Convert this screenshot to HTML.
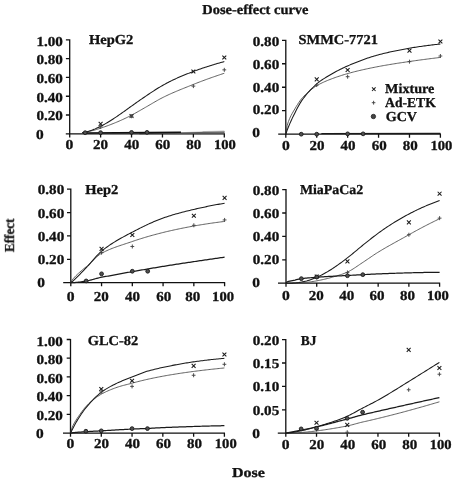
<!DOCTYPE html>
<html><head><meta charset="utf-8"><title>Dose-effect curve</title>
<style>html,body{margin:0;padding:0;background:#fff}svg{display:block}</style></head>
<body>
<svg width="455" height="482" viewBox="0 0 455 482">
<rect width="455" height="482" fill="#fff"/>
<g font-family="'Liberation Serif', serif" font-weight="bold" font-size="13.7" fill="#111" stroke="#111" stroke-width="0.3" opacity="0.999" text-rendering="geometricPrecision">
<text x="202.3" y="14.1" textLength="106.2" lengthAdjust="spacingAndGlyphs">Dose-effect curve</text>
<text x="232.0" y="476.7" textLength="33.0" lengthAdjust="spacingAndGlyphs">Dose</text>
<text transform="translate(13.9,252.3) rotate(-90)" x="0.2" y="0" textLength="33.5" lengthAdjust="spacingAndGlyphs">Effect</text>
<path d="M69.70 39.30 V133.80 M65.80 133.80 H224.90 M65.90 115.02 H69.70 M65.90 96.24 H69.70 M65.90 77.46 H69.70 M65.90 58.68 H69.70 M65.90 39.90 H69.70 M69.70 133.80 V137.40 M100.62 133.80 V137.40 M131.54 133.80 V137.40 M162.46 133.80 V137.40 M193.38 133.80 V137.40 M224.30 133.80 V137.40" stroke="#111" stroke-width="1.3" fill="none"/>
<text x="36.0" y="138.6" textLength="7.7" lengthAdjust="spacingAndGlyphs">0</text>
<text x="36.5" y="120.1" textLength="26.4" lengthAdjust="spacingAndGlyphs">0.20</text>
<text x="36.5" y="101.5" textLength="26.4" lengthAdjust="spacingAndGlyphs">0.40</text>
<text x="36.5" y="83.0" textLength="26.4" lengthAdjust="spacingAndGlyphs">0.60</text>
<text x="36.5" y="64.4" textLength="26.4" lengthAdjust="spacingAndGlyphs">0.80</text>
<text x="36.5" y="45.9" textLength="26.4" lengthAdjust="spacingAndGlyphs">1.00</text>
<text x="65.6" y="148.9" textLength="7.8" lengthAdjust="spacingAndGlyphs">0</text>
<text x="93.1" y="148.9" textLength="15.0" lengthAdjust="spacingAndGlyphs">20</text>
<text x="124.2" y="148.9" textLength="15.0" lengthAdjust="spacingAndGlyphs">40</text>
<text x="155.2" y="148.9" textLength="15.0" lengthAdjust="spacingAndGlyphs">60</text>
<text x="186.3" y="148.9" textLength="15.0" lengthAdjust="spacingAndGlyphs">80</text>
<text x="214.0" y="148.9" textLength="21.9" lengthAdjust="spacingAndGlyphs">100</text>
<path d="M82.07 132.71 L83.26 132.53 L84.46 132.33 L85.65 132.12 L86.85 131.89 L88.04 131.64 L89.24 131.38 L90.43 131.11 L91.63 130.82 L92.83 130.52 L94.02 130.20 L95.22 129.87 L96.41 129.52 L97.61 129.16 L98.80 128.78 L100.00 128.39 L101.19 127.99 L102.39 127.58 L103.58 127.16 L104.78 126.74 L105.97 126.31 L107.17 125.88 L108.36 125.44 L109.56 124.99 L110.75 124.53 L111.95 124.07 L113.14 123.60 L114.34 123.12 L115.53 122.63 L116.73 122.13 L117.92 121.63 L119.12 121.11 L120.32 120.59 L121.51 120.05 L122.71 119.51 L123.90 118.96 L125.10 118.39 L126.29 117.82 L127.49 117.24 L128.68 116.64 L129.88 116.03 L131.07 115.42 L132.27 114.79 L133.46 114.14 L134.66 113.49 L135.85 112.83 L137.05 112.16 L138.24 111.48 L139.44 110.80 L140.63 110.12 L141.83 109.43 L143.02 108.74 L144.22 108.05 L145.42 107.36 L146.61 106.68 L147.81 106.00 L149.00 105.30 L150.20 104.61 L151.39 103.91 L152.59 103.21 L153.78 102.51 L154.98 101.81 L156.17 101.13 L157.37 100.45 L158.56 99.78 L159.76 99.12 L160.95 98.48 L162.15 97.86 L163.34 97.25 L164.54 96.66 L165.73 96.08 L166.93 95.51 L168.12 94.95 L169.32 94.40 L170.51 93.85 L171.71 93.32 L172.91 92.79 L174.10 92.27 L175.30 91.76 L176.49 91.25 L177.69 90.75 L178.88 90.25 L180.08 89.76 L181.27 89.28 L182.47 88.79 L183.66 88.31 L184.86 87.83 L186.05 87.35 L187.25 86.88 L188.44 86.40 L189.64 85.92 L190.83 85.45 L192.03 84.97 L193.22 84.49 L194.42 84.01 L195.61 83.53 L196.81 83.06 L198.01 82.59 L199.20 82.13 L200.40 81.68 L201.59 81.22 L202.79 80.77 L203.98 80.33 L205.18 79.89 L206.37 79.45 L207.57 79.01 L208.76 78.58 L209.96 78.16 L211.15 77.73 L212.35 77.31 L213.54 76.90 L214.74 76.48 L215.93 76.07 L217.13 75.66 L218.32 75.25 L219.52 74.85 L220.71 74.45 L221.91 74.05 L223.10 73.65 L224.30 73.25" stroke="#444" stroke-width="0.85" fill="none" stroke-linejoin="round"/>
<path d="M139.27 133.80 L224.30 131.36 L224.30 133.80 Z" fill="#6e6e6e"/>
<path d="M83.61 132.95 L181.01 132.30" stroke="#111" stroke-width="1.4" fill="none"/>
<path d="M202.66 131.55 L224.30 131.17" stroke="#aaa" stroke-width="0.9" fill="none"/>
<path d="M82.07 132.85 L83.26 132.62 L84.46 132.36 L85.65 132.08 L86.85 131.77 L88.04 131.43 L89.24 131.07 L90.43 130.68 L91.63 130.27 L92.83 129.83 L94.02 129.36 L95.22 128.87 L96.41 128.35 L97.61 127.81 L98.80 127.25 L100.00 126.66 L101.19 126.06 L102.39 125.43 L103.58 124.78 L104.78 124.11 L105.97 123.42 L107.17 122.72 L108.36 122.00 L109.56 121.26 L110.75 120.51 L111.95 119.75 L113.14 118.97 L114.34 118.18 L115.53 117.38 L116.73 116.57 L117.92 115.75 L119.12 114.93 L120.32 114.09 L121.51 113.25 L122.71 112.41 L123.90 111.56 L125.10 110.71 L126.29 109.85 L127.49 109.00 L128.68 108.14 L129.88 107.28 L131.07 106.42 L132.27 105.57 L133.46 104.71 L134.66 103.86 L135.85 103.01 L137.05 102.17 L138.24 101.32 L139.44 100.49 L140.63 99.65 L141.83 98.83 L143.02 98.00 L144.22 97.19 L145.42 96.37 L146.61 95.57 L147.81 94.77 L149.00 93.97 L150.20 93.18 L151.39 92.39 L152.59 91.60 L153.78 90.83 L154.98 90.06 L156.17 89.30 L157.37 88.55 L158.56 87.81 L159.76 87.09 L160.95 86.38 L162.15 85.69 L163.34 85.01 L164.54 84.34 L165.73 83.69 L166.93 83.06 L168.12 82.43 L169.32 81.82 L170.51 81.22 L171.71 80.63 L172.91 80.05 L174.10 79.49 L175.30 78.93 L176.49 78.39 L177.69 77.85 L178.88 77.32 L180.08 76.81 L181.27 76.30 L182.47 75.79 L183.66 75.30 L184.86 74.81 L186.05 74.32 L187.25 73.85 L188.44 73.38 L189.64 72.91 L190.83 72.44 L192.03 71.99 L193.22 71.53 L194.42 71.08 L195.61 70.63 L196.81 70.19 L198.01 69.76 L199.20 69.34 L200.40 68.92 L201.59 68.50 L202.79 68.09 L203.98 67.69 L205.18 67.30 L206.37 66.91 L207.57 66.52 L208.76 66.14 L209.96 65.77 L211.15 65.40 L212.35 65.03 L213.54 64.67 L214.74 64.31 L215.93 63.96 L217.13 63.61 L218.32 63.27 L219.52 62.93 L220.71 62.59 L221.91 62.26 L223.10 61.93 L224.30 61.61" stroke="#1a1a1a" stroke-width="1.05" fill="none" stroke-linejoin="round"/>
<path d="M98.67 121.90 L102.57 125.80 M98.67 125.80 L102.57 121.90" stroke="#1a1a1a" stroke-width="1.05" fill="none"/>
<path d="M129.59 114.10 L133.49 118.00 M129.59 118.00 L133.49 114.10" stroke="#1a1a1a" stroke-width="1.05" fill="none"/>
<path d="M191.43 69.59 L195.33 73.49 M191.43 73.49 L195.33 69.59" stroke="#1a1a1a" stroke-width="1.05" fill="none"/>
<path d="M222.35 55.51 L226.25 59.41 M222.35 59.41 L226.25 55.51" stroke="#1a1a1a" stroke-width="1.05" fill="none"/>
<path d="M98.72 126.85 H102.52 M100.62 124.85 V128.85" stroke="#444" stroke-width="0.95" fill="none"/>
<path d="M129.64 116.24 H133.44 M131.54 114.24 V118.24" stroke="#444" stroke-width="0.95" fill="none"/>
<path d="M191.48 86.10 H195.28 M193.38 84.10 V88.10" stroke="#444" stroke-width="0.95" fill="none"/>
<path d="M222.40 69.85 H226.20 M224.30 67.85 V71.85" stroke="#444" stroke-width="0.95" fill="none"/>
<circle cx="85.16" cy="132.67" r="1.90" fill="#505050" stroke="#1a1a1a" stroke-width="0.9"/>
<circle cx="100.62" cy="132.67" r="1.90" fill="#505050" stroke="#1a1a1a" stroke-width="0.9"/>
<circle cx="131.54" cy="132.39" r="1.90" fill="#505050" stroke="#1a1a1a" stroke-width="0.9"/>
<circle cx="147.00" cy="132.39" r="1.90" fill="#505050" stroke="#1a1a1a" stroke-width="0.9"/>
<path d="M285.80 39.70 V134.20 M278.20 134.20 H441.00 M282.00 110.72 H285.80 M282.00 87.25 H285.80 M282.00 63.77 H285.80 M282.00 40.30 H285.80 M285.80 134.20 V137.80 M316.72 134.20 V137.80 M347.64 134.20 V137.80 M378.56 134.20 V137.80 M409.48 134.20 V137.80 M440.40 134.20 V137.80" stroke="#111" stroke-width="1.3" fill="none"/>
<text x="252.3" y="137.3" textLength="7.7" lengthAdjust="spacingAndGlyphs">0</text>
<text x="252.8" y="114.4" textLength="26.4" lengthAdjust="spacingAndGlyphs">0.20</text>
<text x="252.8" y="91.5" textLength="26.4" lengthAdjust="spacingAndGlyphs">0.40</text>
<text x="252.8" y="68.6" textLength="26.4" lengthAdjust="spacingAndGlyphs">0.60</text>
<text x="252.8" y="45.7" textLength="26.4" lengthAdjust="spacingAndGlyphs">0.80</text>
<text x="281.9" y="149.6" textLength="7.8" lengthAdjust="spacingAndGlyphs">0</text>
<text x="309.4" y="149.6" textLength="15.0" lengthAdjust="spacingAndGlyphs">20</text>
<text x="340.5" y="149.6" textLength="15.0" lengthAdjust="spacingAndGlyphs">40</text>
<text x="371.7" y="149.6" textLength="15.0" lengthAdjust="spacingAndGlyphs">60</text>
<text x="402.8" y="149.6" textLength="15.0" lengthAdjust="spacingAndGlyphs">80</text>
<text x="430.4" y="149.6" textLength="21.9" lengthAdjust="spacingAndGlyphs">100</text>
<path d="M285.82 133.69 L287.11 125.71 L288.41 121.57 L289.71 118.37 L291.01 115.64 L292.31 113.22 L293.61 110.98 L294.91 108.80 L296.21 106.62 L297.51 104.49 L298.81 102.47 L300.10 100.61 L301.40 98.97 L302.70 97.49 L304.00 96.09 L305.30 94.77 L306.60 93.51 L307.90 92.31 L309.20 91.18 L310.50 90.10 L311.80 89.08 L313.10 88.12 L314.39 87.22 L315.69 86.36 L316.99 85.57 L318.29 84.82 L319.59 84.11 L320.89 83.44 L322.19 82.81 L323.49 82.20 L324.79 81.62 L326.09 81.06 L327.38 80.53 L328.68 80.00 L329.98 79.49 L331.28 78.99 L332.58 78.50 L333.88 78.02 L335.18 77.55 L336.48 77.09 L337.78 76.65 L339.08 76.22 L340.37 75.80 L341.67 75.38 L342.97 74.98 L344.27 74.58 L345.57 74.20 L346.87 73.82 L348.17 73.45 L349.47 73.08 L350.77 72.73 L352.07 72.38 L353.37 72.04 L354.66 71.70 L355.96 71.37 L357.26 71.05 L358.56 70.74 L359.86 70.43 L361.16 70.13 L362.46 69.83 L363.76 69.54 L365.06 69.25 L366.36 68.97 L367.65 68.69 L368.95 68.41 L370.25 68.14 L371.55 67.88 L372.85 67.61 L374.15 67.36 L375.45 67.10 L376.75 66.85 L378.05 66.60 L379.35 66.36 L380.64 66.11 L381.94 65.88 L383.24 65.64 L384.54 65.41 L385.84 65.19 L387.14 64.97 L388.44 64.75 L389.74 64.53 L391.04 64.32 L392.34 64.11 L393.63 63.90 L394.93 63.69 L396.23 63.49 L397.53 63.28 L398.83 63.08 L400.13 62.89 L401.43 62.69 L402.73 62.49 L404.03 62.30 L405.33 62.11 L406.63 61.91 L407.92 61.72 L409.22 61.53 L410.52 61.34 L411.82 61.15 L413.12 60.97 L414.42 60.79 L415.72 60.60 L417.02 60.42 L418.32 60.25 L419.62 60.07 L420.91 59.90 L422.21 59.72 L423.51 59.55 L424.81 59.38 L426.11 59.21 L427.41 59.04 L428.71 58.88 L430.01 58.71 L431.31 58.55 L432.61 58.38 L433.90 58.22 L435.20 58.06 L436.50 57.90 L437.80 57.73 L439.10 57.57 L440.40 57.41" stroke="#444" stroke-width="0.85" fill="none" stroke-linejoin="round"/>
<path d="M321.36 133.50 L440.40 133.30" stroke="#1a1a1a" stroke-width="1.2" fill="none"/>
<path d="M285.82 134.14 L287.11 130.31 L288.41 126.96 L289.71 123.84 L291.01 120.92 L292.31 118.15 L293.61 115.53 L294.91 112.94 L296.21 110.34 L297.51 107.80 L298.81 105.38 L300.10 103.14 L301.40 101.14 L302.70 99.31 L304.00 97.56 L305.30 95.89 L306.60 94.29 L307.90 92.76 L309.20 91.30 L310.50 89.89 L311.80 88.55 L313.10 87.25 L314.39 86.01 L315.69 84.81 L316.99 83.66 L318.29 82.58 L319.59 81.57 L320.89 80.63 L322.19 79.74 L323.49 78.90 L324.79 78.09 L326.09 77.31 L327.38 76.55 L328.68 75.80 L329.98 75.06 L331.28 74.30 L332.58 73.54 L333.88 72.78 L335.18 72.04 L336.48 71.33 L337.78 70.63 L339.08 69.96 L340.37 69.30 L341.67 68.66 L342.97 68.03 L344.27 67.42 L345.57 66.82 L346.87 66.24 L348.17 65.67 L349.47 65.11 L350.77 64.56 L352.07 64.01 L353.37 63.47 L354.66 62.94 L355.96 62.42 L357.26 61.90 L358.56 61.40 L359.86 60.90 L361.16 60.41 L362.46 59.93 L363.76 59.45 L365.06 58.99 L366.36 58.53 L367.65 58.09 L368.95 57.66 L370.25 57.23 L371.55 56.82 L372.85 56.42 L374.15 56.03 L375.45 55.65 L376.75 55.28 L378.05 54.93 L379.35 54.59 L380.64 54.26 L381.94 53.93 L383.24 53.61 L384.54 53.29 L385.84 52.98 L387.14 52.68 L388.44 52.38 L389.74 52.08 L391.04 51.80 L392.34 51.51 L393.63 51.24 L394.93 50.96 L396.23 50.69 L397.53 50.43 L398.83 50.17 L400.13 49.92 L401.43 49.67 L402.73 49.42 L404.03 49.18 L405.33 48.94 L406.63 48.71 L407.92 48.48 L409.22 48.25 L410.52 48.03 L411.82 47.81 L413.12 47.59 L414.42 47.39 L415.72 47.18 L417.02 46.98 L418.32 46.79 L419.62 46.59 L420.91 46.41 L422.21 46.22 L423.51 46.04 L424.81 45.87 L426.11 45.69 L427.41 45.52 L428.71 45.36 L430.01 45.19 L431.31 45.03 L432.61 44.88 L433.90 44.72 L435.20 44.57 L436.50 44.42 L437.80 44.28 L439.10 44.13 L440.40 43.99" stroke="#1a1a1a" stroke-width="1.05" fill="none" stroke-linejoin="round"/>
<path d="M314.77 77.44 L318.67 81.34 M314.77 81.34 L318.67 77.44" stroke="#1a1a1a" stroke-width="1.05" fill="none"/>
<path d="M345.69 68.05 L349.59 71.95 M345.69 71.95 L349.59 68.05" stroke="#1a1a1a" stroke-width="1.05" fill="none"/>
<path d="M407.53 48.68 L411.43 52.58 M407.53 52.58 L411.43 48.68" stroke="#1a1a1a" stroke-width="1.05" fill="none"/>
<path d="M438.45 39.52 L442.35 43.42 M438.45 43.42 L442.35 39.52" stroke="#1a1a1a" stroke-width="1.05" fill="none"/>
<path d="M314.82 85.02 H318.62 M316.72 83.02 V87.02" stroke="#444" stroke-width="0.95" fill="none"/>
<path d="M345.74 76.69 H349.54 M347.64 74.69 V78.69" stroke="#444" stroke-width="0.95" fill="none"/>
<path d="M407.58 61.66 H411.38 M409.48 59.66 V63.66" stroke="#444" stroke-width="0.95" fill="none"/>
<path d="M438.50 56.03 H442.30 M440.40 54.03 V58.03" stroke="#444" stroke-width="0.95" fill="none"/>
<circle cx="301.26" cy="134.20" r="1.90" fill="#505050" stroke="#1a1a1a" stroke-width="0.9"/>
<circle cx="316.72" cy="134.20" r="1.90" fill="#505050" stroke="#1a1a1a" stroke-width="0.9"/>
<circle cx="347.64" cy="133.85" r="1.90" fill="#505050" stroke="#1a1a1a" stroke-width="0.9"/>
<circle cx="363.10" cy="133.85" r="1.90" fill="#505050" stroke="#1a1a1a" stroke-width="0.9"/>
<path d="M70.80 188.60 V282.70 M63.20 282.70 H225.20 M67.00 259.32 H70.80 M67.00 235.95 H70.80 M67.00 212.57 H70.80 M67.00 189.20 H70.80 M70.80 282.70 V286.30 M101.56 282.70 V286.30 M132.32 282.70 V286.30 M163.08 282.70 V286.30 M193.84 282.70 V286.30 M224.60 282.70 V286.30" stroke="#111" stroke-width="1.3" fill="none"/>
<text x="37.3" y="287.3" textLength="7.7" lengthAdjust="spacingAndGlyphs">0</text>
<text x="37.8" y="264.1" textLength="26.4" lengthAdjust="spacingAndGlyphs">0.20</text>
<text x="37.8" y="240.8" textLength="26.4" lengthAdjust="spacingAndGlyphs">0.40</text>
<text x="37.8" y="217.5" textLength="26.4" lengthAdjust="spacingAndGlyphs">0.60</text>
<text x="37.8" y="194.3" textLength="26.4" lengthAdjust="spacingAndGlyphs">0.80</text>
<text x="66.8" y="300.9" textLength="7.8" lengthAdjust="spacingAndGlyphs">0</text>
<text x="93.8" y="300.9" textLength="15.0" lengthAdjust="spacingAndGlyphs">20</text>
<text x="125.0" y="300.9" textLength="15.0" lengthAdjust="spacingAndGlyphs">40</text>
<text x="156.3" y="300.9" textLength="15.0" lengthAdjust="spacingAndGlyphs">60</text>
<text x="185.2" y="300.9" textLength="15.0" lengthAdjust="spacingAndGlyphs">80</text>
<text x="212.1" y="300.9" textLength="21.9" lengthAdjust="spacingAndGlyphs">100</text>
<path d="M70.82 282.62 L72.11 280.21 L73.40 278.53 L74.69 277.05 L75.98 275.70 L77.28 274.43 L78.57 273.22 L79.86 272.06 L81.15 270.93 L82.45 269.83 L83.74 268.76 L85.03 267.72 L86.32 266.70 L87.62 265.63 L88.91 264.47 L90.20 263.25 L91.49 261.98 L92.78 260.70 L94.08 259.42 L95.37 258.17 L96.66 256.97 L97.95 255.85 L99.25 254.83 L100.54 253.92 L101.83 253.16 L103.12 252.48 L104.42 251.82 L105.71 251.19 L107.00 250.59 L108.29 250.01 L109.58 249.46 L110.88 248.92 L112.17 248.41 L113.46 247.91 L114.75 247.43 L116.05 246.96 L117.34 246.50 L118.63 246.05 L119.92 245.61 L121.22 245.17 L122.51 244.75 L123.80 244.32 L125.09 243.90 L126.38 243.47 L127.68 243.05 L128.97 242.62 L130.26 242.19 L131.55 241.75 L132.85 241.31 L134.14 240.86 L135.43 240.43 L136.72 240.00 L138.02 239.58 L139.31 239.17 L140.60 238.76 L141.89 238.36 L143.18 237.96 L144.48 237.57 L145.77 237.18 L147.06 236.80 L148.35 236.43 L149.65 236.06 L150.94 235.69 L152.23 235.33 L153.52 234.98 L154.82 234.63 L156.11 234.28 L157.40 233.94 L158.69 233.60 L159.98 233.27 L161.28 232.94 L162.57 232.62 L163.86 232.30 L165.15 231.98 L166.45 231.67 L167.74 231.37 L169.03 231.07 L170.32 230.77 L171.62 230.48 L172.91 230.19 L174.20 229.91 L175.49 229.63 L176.78 229.35 L178.08 229.08 L179.37 228.81 L180.66 228.54 L181.95 228.28 L183.25 228.02 L184.54 227.77 L185.83 227.51 L187.12 227.26 L188.42 227.02 L189.71 226.78 L191.00 226.54 L192.29 226.30 L193.58 226.06 L194.88 225.83 L196.17 225.60 L197.46 225.38 L198.75 225.16 L200.05 224.94 L201.34 224.73 L202.63 224.52 L203.92 224.31 L205.22 224.11 L206.51 223.91 L207.80 223.72 L209.09 223.52 L210.38 223.33 L211.68 223.15 L212.97 222.96 L214.26 222.78 L215.55 222.60 L216.85 222.43 L218.14 222.25 L219.43 222.08 L220.72 221.91 L222.02 221.75 L223.31 221.58 L224.60 221.42" stroke="#444" stroke-width="0.85" fill="none" stroke-linejoin="round"/>
<path d="M70.82 282.70 L72.11 282.68 L73.40 282.63 L74.69 282.55 L75.98 282.45 L77.28 282.33 L78.57 282.19 L79.86 282.04 L81.15 281.87 L82.45 281.68 L83.74 281.49 L85.03 281.28 L86.32 281.05 L87.62 280.80 L88.91 280.51 L90.20 280.19 L91.49 279.84 L92.78 279.49 L94.08 279.12 L95.37 278.76 L96.66 278.40 L97.95 278.06 L99.25 277.74 L100.54 277.45 L101.83 277.20 L103.12 276.96 L104.42 276.72 L105.71 276.48 L107.00 276.24 L108.29 276.01 L109.58 275.77 L110.88 275.53 L112.17 275.29 L113.46 275.06 L114.75 274.82 L116.05 274.58 L117.34 274.35 L118.63 274.11 L119.92 273.88 L121.22 273.64 L122.51 273.41 L123.80 273.18 L125.09 272.94 L126.38 272.71 L127.68 272.48 L128.97 272.25 L130.26 272.02 L131.55 271.79 L132.85 271.56 L134.14 271.33 L135.43 271.11 L136.72 270.88 L138.02 270.65 L139.31 270.43 L140.60 270.20 L141.89 269.98 L143.18 269.75 L144.48 269.53 L145.77 269.31 L147.06 269.09 L148.35 268.87 L149.65 268.64 L150.94 268.42 L152.23 268.21 L153.52 267.99 L154.82 267.77 L156.11 267.55 L157.40 267.33 L158.69 267.12 L159.98 266.90 L161.28 266.69 L162.57 266.47 L163.86 266.26 L165.15 266.05 L166.45 265.84 L167.74 265.63 L169.03 265.43 L170.32 265.22 L171.62 265.02 L172.91 264.82 L174.20 264.62 L175.49 264.42 L176.78 264.22 L178.08 264.02 L179.37 263.83 L180.66 263.63 L181.95 263.44 L183.25 263.24 L184.54 263.05 L185.83 262.85 L187.12 262.66 L188.42 262.47 L189.71 262.27 L191.00 262.08 L192.29 261.89 L193.58 261.69 L194.88 261.50 L196.17 261.31 L197.46 261.11 L198.75 260.92 L200.05 260.73 L201.34 260.54 L202.63 260.35 L203.92 260.16 L205.22 259.97 L206.51 259.78 L207.80 259.59 L209.09 259.40 L210.38 259.21 L211.68 259.03 L212.97 258.84 L214.26 258.65 L215.55 258.47 L216.85 258.28 L218.14 258.10 L219.43 257.91 L220.72 257.73 L222.02 257.54 L223.31 257.36 L224.60 257.18" stroke="#1a1a1a" stroke-width="1.25" fill="none" stroke-linejoin="round"/>
<path d="M70.82 282.70 L72.11 281.80 L73.40 280.69 L74.69 279.49 L75.98 278.24 L77.28 276.95 L78.57 275.64 L79.86 274.31 L81.15 272.97 L82.45 271.63 L83.74 270.29 L85.03 268.96 L86.32 267.63 L87.62 266.26 L88.91 264.83 L90.20 263.36 L91.49 261.87 L92.78 260.36 L94.08 258.86 L95.37 257.39 L96.66 255.95 L97.95 254.58 L99.25 253.28 L100.54 252.07 L101.83 250.97 L103.12 249.92 L104.42 248.91 L105.71 247.93 L107.00 246.98 L108.29 246.06 L109.58 245.17 L110.88 244.30 L112.17 243.46 L113.46 242.64 L114.75 241.83 L116.05 241.05 L117.34 240.29 L118.63 239.54 L119.92 238.80 L121.22 238.08 L122.51 237.36 L123.80 236.66 L125.09 235.96 L126.38 235.27 L127.68 234.59 L128.97 233.91 L130.26 233.23 L131.55 232.55 L132.85 231.87 L134.14 231.19 L135.43 230.51 L136.72 229.85 L138.02 229.19 L139.31 228.53 L140.60 227.88 L141.89 227.24 L143.18 226.60 L144.48 225.97 L145.77 225.35 L147.06 224.74 L148.35 224.14 L149.65 223.55 L150.94 222.97 L152.23 222.40 L153.52 221.83 L154.82 221.28 L156.11 220.75 L157.40 220.22 L158.69 219.71 L159.98 219.21 L161.28 218.72 L162.57 218.25 L163.86 217.80 L165.15 217.35 L166.45 216.91 L167.74 216.49 L169.03 216.07 L170.32 215.66 L171.62 215.26 L172.91 214.87 L174.20 214.49 L175.49 214.12 L176.78 213.75 L178.08 213.39 L179.37 213.03 L180.66 212.69 L181.95 212.34 L183.25 212.01 L184.54 211.68 L185.83 211.35 L187.12 211.03 L188.42 210.71 L189.71 210.39 L191.00 210.08 L192.29 209.77 L193.58 209.47 L194.88 209.17 L196.17 208.87 L197.46 208.57 L198.75 208.28 L200.05 208.00 L201.34 207.71 L202.63 207.43 L203.92 207.16 L205.22 206.89 L206.51 206.62 L207.80 206.36 L209.09 206.10 L210.38 205.84 L211.68 205.59 L212.97 205.34 L214.26 205.09 L215.55 204.84 L216.85 204.60 L218.14 204.36 L219.43 204.13 L220.72 203.90 L222.02 203.67 L223.31 203.44 L224.60 203.22" stroke="#1a1a1a" stroke-width="1.05" fill="none" stroke-linejoin="round"/>
<path d="M99.61 246.86 L103.51 250.76 M99.61 250.76 L103.51 246.86" stroke="#1a1a1a" stroke-width="1.05" fill="none"/>
<path d="M130.37 233.06 L134.27 236.96 M130.37 236.96 L134.27 233.06" stroke="#1a1a1a" stroke-width="1.05" fill="none"/>
<path d="M191.89 213.78 L195.79 217.68 M191.89 217.68 L195.79 213.78" stroke="#1a1a1a" stroke-width="1.05" fill="none"/>
<path d="M222.65 195.90 L226.55 199.80 M222.65 199.80 L226.55 195.90" stroke="#1a1a1a" stroke-width="1.05" fill="none"/>
<path d="M99.66 252.66 H103.46 M101.56 250.66 V254.66" stroke="#444" stroke-width="0.95" fill="none"/>
<path d="M130.42 246.47 H134.22 M132.32 244.47 V248.47" stroke="#444" stroke-width="0.95" fill="none"/>
<path d="M191.94 225.31 H195.74 M193.84 223.31 V227.31" stroke="#444" stroke-width="0.95" fill="none"/>
<path d="M222.70 219.94 H226.50 M224.60 217.94 V221.94" stroke="#444" stroke-width="0.95" fill="none"/>
<circle cx="86.18" cy="280.95" r="1.90" fill="#505050" stroke="#1a1a1a" stroke-width="0.9"/>
<circle cx="101.56" cy="273.82" r="1.90" fill="#505050" stroke="#1a1a1a" stroke-width="0.9"/>
<circle cx="132.32" cy="271.25" r="1.90" fill="#505050" stroke="#1a1a1a" stroke-width="0.9"/>
<circle cx="147.70" cy="271.25" r="1.90" fill="#505050" stroke="#1a1a1a" stroke-width="0.9"/>
<path d="M286.00 189.00 V283.20 M278.00 283.20 H440.20 M282.20 259.80 H286.00 M282.20 236.40 H286.00 M282.20 213.00 H286.00 M282.20 189.60 H286.00 M286.00 283.20 V286.80 M316.72 283.20 V286.80 M347.44 283.20 V286.80 M378.16 283.20 V286.80 M408.88 283.20 V286.80 M439.60 283.20 V286.80" stroke="#111" stroke-width="1.3" fill="none"/>
<text x="252.3" y="287.3" textLength="7.7" lengthAdjust="spacingAndGlyphs">0</text>
<text x="252.8" y="264.3" textLength="26.4" lengthAdjust="spacingAndGlyphs">0.20</text>
<text x="252.8" y="241.3" textLength="26.4" lengthAdjust="spacingAndGlyphs">0.40</text>
<text x="252.8" y="218.3" textLength="26.4" lengthAdjust="spacingAndGlyphs">0.60</text>
<text x="252.8" y="195.3" textLength="26.4" lengthAdjust="spacingAndGlyphs">0.80</text>
<text x="281.9" y="300.2" textLength="7.8" lengthAdjust="spacingAndGlyphs">0</text>
<text x="308.7" y="300.2" textLength="15.0" lengthAdjust="spacingAndGlyphs">20</text>
<text x="339.2" y="300.2" textLength="15.0" lengthAdjust="spacingAndGlyphs">40</text>
<text x="369.6" y="300.2" textLength="15.0" lengthAdjust="spacingAndGlyphs">60</text>
<text x="400.1" y="300.2" textLength="15.0" lengthAdjust="spacingAndGlyphs">80</text>
<text x="427.0" y="300.2" textLength="21.9" lengthAdjust="spacingAndGlyphs">100</text>
<path d="M286.02 283.20 L287.31 283.20 L288.60 283.20 L289.89 283.19 L291.18 283.17 L292.47 283.16 L293.76 283.13 L295.05 283.09 L296.34 283.05 L297.63 283.00 L298.92 282.94 L300.21 282.87 L301.50 282.78 L302.79 282.69 L304.08 282.59 L305.37 282.47 L306.67 282.34 L307.96 282.20 L309.25 282.04 L310.54 281.87 L311.83 281.69 L313.12 281.49 L314.41 281.27 L315.70 281.05 L316.99 280.81 L318.28 280.55 L319.57 280.30 L320.86 280.03 L322.15 279.76 L323.44 279.47 L324.73 279.17 L326.02 278.87 L327.32 278.55 L328.61 278.21 L329.90 277.86 L331.19 277.50 L332.48 277.12 L333.77 276.75 L335.06 276.38 L336.35 276.01 L337.64 275.63 L338.93 275.24 L340.22 274.84 L341.51 274.42 L342.80 273.97 L344.09 273.49 L345.38 272.98 L346.67 272.42 L347.97 271.82 L349.26 271.17 L350.55 270.45 L351.84 269.70 L353.13 268.90 L354.42 268.07 L355.71 267.22 L357.00 266.35 L358.29 265.47 L359.58 264.59 L360.87 263.71 L362.16 262.85 L363.45 262.00 L364.74 261.15 L366.03 260.28 L367.32 259.40 L368.62 258.51 L369.91 257.63 L371.20 256.75 L372.49 255.87 L373.78 255.00 L375.07 254.15 L376.36 253.32 L377.65 252.50 L378.94 251.71 L380.23 250.93 L381.52 250.16 L382.81 249.39 L384.10 248.64 L385.39 247.89 L386.68 247.14 L387.97 246.40 L389.27 245.67 L390.56 244.94 L391.85 244.22 L393.14 243.50 L394.43 242.78 L395.72 242.06 L397.01 241.35 L398.30 240.64 L399.59 239.93 L400.88 239.21 L402.17 238.50 L403.46 237.79 L404.75 237.07 L406.04 236.35 L407.33 235.63 L408.62 234.90 L409.92 234.17 L411.21 233.45 L412.50 232.73 L413.79 232.01 L415.08 231.30 L416.37 230.60 L417.66 229.90 L418.95 229.20 L420.24 228.51 L421.53 227.82 L422.82 227.14 L424.11 226.46 L425.40 225.79 L426.69 225.13 L427.98 224.46 L429.27 223.81 L430.57 223.15 L431.86 222.51 L433.15 221.86 L434.44 221.23 L435.73 220.59 L437.02 219.96 L438.31 219.34 L439.60 218.72" stroke="#444" stroke-width="0.85" fill="none" stroke-linejoin="round"/>
<path d="M286.02 282.97 L287.31 281.78 L288.60 281.35 L289.89 281.04 L291.18 280.77 L292.47 280.52 L293.76 280.28 L295.05 280.02 L296.34 279.72 L297.63 279.40 L298.92 279.10 L300.21 278.85 L301.50 278.66 L302.79 278.51 L304.08 278.37 L305.37 278.24 L306.67 278.11 L307.96 277.99 L309.25 277.87 L310.54 277.75 L311.83 277.65 L313.12 277.54 L314.41 277.44 L315.70 277.34 L316.99 277.24 L318.28 277.15 L319.57 277.05 L320.86 276.96 L322.15 276.88 L323.44 276.79 L324.73 276.71 L326.02 276.63 L327.32 276.55 L328.61 276.48 L329.90 276.40 L331.19 276.33 L332.48 276.26 L333.77 276.19 L335.06 276.12 L336.35 276.05 L337.64 275.98 L338.93 275.91 L340.22 275.84 L341.51 275.78 L342.80 275.71 L344.09 275.65 L345.38 275.58 L346.67 275.51 L347.97 275.45 L349.26 275.38 L350.55 275.31 L351.84 275.25 L353.13 275.18 L354.42 275.11 L355.71 275.04 L357.00 274.97 L358.29 274.91 L359.58 274.84 L360.87 274.77 L362.16 274.71 L363.45 274.64 L364.74 274.57 L366.03 274.50 L367.32 274.43 L368.62 274.36 L369.91 274.29 L371.20 274.22 L372.49 274.15 L373.78 274.09 L375.07 274.03 L376.36 273.97 L377.65 273.91 L378.94 273.86 L380.23 273.81 L381.52 273.76 L382.81 273.71 L384.10 273.66 L385.39 273.61 L386.68 273.57 L387.97 273.52 L389.27 273.47 L390.56 273.43 L391.85 273.38 L393.14 273.34 L394.43 273.29 L395.72 273.25 L397.01 273.21 L398.30 273.16 L399.59 273.12 L400.88 273.08 L402.17 273.04 L403.46 273.00 L404.75 272.96 L406.04 272.93 L407.33 272.89 L408.62 272.85 L409.92 272.82 L411.21 272.78 L412.50 272.75 L413.79 272.72 L415.08 272.68 L416.37 272.65 L417.66 272.62 L418.95 272.59 L420.24 272.57 L421.53 272.54 L422.82 272.51 L424.11 272.49 L425.40 272.46 L426.69 272.44 L427.98 272.42 L429.27 272.40 L430.57 272.37 L431.86 272.36 L433.15 272.34 L434.44 272.32 L435.73 272.31 L437.02 272.29 L438.31 272.28 L439.60 272.27" stroke="#1a1a1a" stroke-width="1.25" fill="none" stroke-linejoin="round"/>
<path d="M286.02 283.20 L287.31 283.21 L288.60 283.21 L289.89 283.20 L291.18 283.17 L292.47 283.12 L293.76 283.04 L295.05 282.95 L296.34 282.83 L297.63 282.68 L298.92 282.51 L300.21 282.31 L301.50 282.09 L302.79 281.83 L304.08 281.55 L305.37 281.24 L306.67 280.90 L307.96 280.53 L309.25 280.14 L310.54 279.72 L311.83 279.27 L313.12 278.79 L314.41 278.28 L315.70 277.75 L316.99 277.19 L318.28 276.60 L319.57 275.99 L320.86 275.36 L322.15 274.70 L323.44 274.02 L324.73 273.31 L326.02 272.58 L327.32 271.83 L328.61 271.05 L329.90 270.26 L331.19 269.44 L332.48 268.61 L333.77 267.75 L335.06 266.88 L336.35 266.00 L337.64 265.10 L338.93 264.19 L340.22 263.26 L341.51 262.32 L342.80 261.36 L344.09 260.40 L345.38 259.42 L346.67 258.44 L347.97 257.44 L349.26 256.43 L350.55 255.39 L351.84 254.34 L353.13 253.28 L354.42 252.20 L355.71 251.12 L357.00 250.04 L358.29 248.96 L359.58 247.88 L360.87 246.81 L362.16 245.75 L363.45 244.71 L364.74 243.66 L366.03 242.62 L367.32 241.59 L368.62 240.56 L369.91 239.54 L371.20 238.53 L372.49 237.53 L373.78 236.53 L375.07 235.55 L376.36 234.58 L377.65 233.62 L378.94 232.68 L380.23 231.75 L381.52 230.83 L382.81 229.92 L384.10 229.02 L385.39 228.14 L386.68 227.27 L387.97 226.41 L389.27 225.57 L390.56 224.73 L391.85 223.91 L393.14 223.10 L394.43 222.30 L395.72 221.51 L397.01 220.73 L398.30 219.96 L399.59 219.21 L400.88 218.46 L402.17 217.72 L403.46 217.00 L404.75 216.28 L406.04 215.57 L407.33 214.88 L408.62 214.19 L409.92 213.50 L411.21 212.83 L412.50 212.17 L413.79 211.52 L415.08 210.88 L416.37 210.25 L417.66 209.63 L418.95 209.02 L420.24 208.42 L421.53 207.83 L422.82 207.25 L424.11 206.68 L425.40 206.12 L426.69 205.56 L427.98 205.02 L429.27 204.48 L430.57 203.95 L431.86 203.44 L433.15 202.93 L434.44 202.43 L435.73 201.93 L437.02 201.45 L438.31 200.97 L439.60 200.50" stroke="#1a1a1a" stroke-width="1.05" fill="none" stroke-linejoin="round"/>
<path d="M314.77 274.58 L318.67 278.48 M314.77 278.48 L318.67 274.58" stroke="#1a1a1a" stroke-width="1.05" fill="none"/>
<path d="M345.49 259.49 L349.39 263.39 M345.49 263.39 L349.39 259.49" stroke="#1a1a1a" stroke-width="1.05" fill="none"/>
<path d="M406.93 220.41 L410.83 224.31 M406.93 224.31 L410.83 220.41" stroke="#1a1a1a" stroke-width="1.05" fill="none"/>
<path d="M437.65 191.75 L441.55 195.64 M437.65 195.64 L441.55 191.75" stroke="#1a1a1a" stroke-width="1.05" fill="none"/>
<path d="M314.82 277.35 H318.62 M316.72 275.35 V279.35" stroke="#444" stroke-width="0.95" fill="none"/>
<path d="M345.54 272.44 H349.34 M347.44 270.44 V274.44" stroke="#444" stroke-width="0.95" fill="none"/>
<path d="M406.98 234.76 H410.78 M408.88 232.76 V236.76" stroke="#444" stroke-width="0.95" fill="none"/>
<path d="M437.70 218.15 H441.50 M439.60 216.15 V220.15" stroke="#444" stroke-width="0.95" fill="none"/>
<circle cx="301.36" cy="278.64" r="1.90" fill="#505050" stroke="#1a1a1a" stroke-width="0.9"/>
<circle cx="316.72" cy="277.00" r="1.90" fill="#505050" stroke="#1a1a1a" stroke-width="0.9"/>
<circle cx="347.44" cy="275.71" r="1.90" fill="#505050" stroke="#1a1a1a" stroke-width="0.9"/>
<circle cx="362.80" cy="274.66" r="1.90" fill="#505050" stroke="#1a1a1a" stroke-width="0.9"/>
<path d="M70.50 338.90 V433.10 M63.00 433.10 H225.00 M66.70 414.38 H70.50 M66.70 395.66 H70.50 M66.70 376.94 H70.50 M66.70 358.22 H70.50 M66.70 339.50 H70.50 M70.50 433.10 V436.70 M101.28 433.10 V436.70 M132.06 433.10 V436.70 M162.84 433.10 V436.70 M193.62 433.10 V436.70 M224.40 433.10 V436.70" stroke="#111" stroke-width="1.3" fill="none"/>
<text x="36.0" y="438.2" textLength="7.7" lengthAdjust="spacingAndGlyphs">0</text>
<text x="36.5" y="419.7" textLength="26.4" lengthAdjust="spacingAndGlyphs">0.20</text>
<text x="36.5" y="401.2" textLength="26.4" lengthAdjust="spacingAndGlyphs">0.40</text>
<text x="36.5" y="382.7" textLength="26.4" lengthAdjust="spacingAndGlyphs">0.60</text>
<text x="36.5" y="364.2" textLength="26.4" lengthAdjust="spacingAndGlyphs">0.80</text>
<text x="36.5" y="345.7" textLength="26.4" lengthAdjust="spacingAndGlyphs">1.00</text>
<text x="66.4" y="448.4" textLength="7.8" lengthAdjust="spacingAndGlyphs">0</text>
<text x="93.9" y="448.4" textLength="15.0" lengthAdjust="spacingAndGlyphs">20</text>
<text x="125.0" y="448.4" textLength="15.0" lengthAdjust="spacingAndGlyphs">40</text>
<text x="156.0" y="448.4" textLength="15.0" lengthAdjust="spacingAndGlyphs">60</text>
<text x="187.1" y="448.4" textLength="15.0" lengthAdjust="spacingAndGlyphs">80</text>
<text x="214.8" y="448.4" textLength="21.9" lengthAdjust="spacingAndGlyphs">100</text>
<path d="M70.52 432.93 L71.81 428.30 L73.10 425.32 L74.39 422.85 L75.69 420.65 L76.98 418.63 L78.27 416.74 L79.57 414.89 L80.86 413.04 L82.15 411.24 L83.45 409.52 L84.74 407.91 L86.03 406.46 L87.33 405.12 L88.62 403.84 L89.91 402.62 L91.21 401.46 L92.50 400.35 L93.79 399.29 L95.09 398.29 L96.38 397.33 L97.67 396.43 L98.96 395.58 L100.26 394.79 L101.55 394.04 L102.84 393.34 L104.14 392.67 L105.43 392.03 L106.72 391.41 L108.02 390.83 L109.31 390.27 L110.60 389.73 L111.90 389.21 L113.19 388.71 L114.48 388.22 L115.78 387.75 L117.07 387.30 L118.36 386.87 L119.66 386.47 L120.95 386.09 L122.24 385.73 L123.53 385.39 L124.83 385.05 L126.12 384.73 L127.41 384.40 L128.71 384.07 L130.00 383.74 L131.29 383.39 L132.59 383.03 L133.88 382.68 L135.17 382.33 L136.47 381.99 L137.76 381.65 L139.05 381.32 L140.35 380.99 L141.64 380.68 L142.93 380.36 L144.22 380.06 L145.52 379.75 L146.81 379.46 L148.10 379.17 L149.40 378.89 L150.69 378.61 L151.98 378.34 L153.28 378.07 L154.57 377.80 L155.86 377.55 L157.16 377.29 L158.45 377.04 L159.74 376.79 L161.04 376.55 L162.33 376.31 L163.62 376.07 L164.92 375.83 L166.21 375.60 L167.50 375.37 L168.79 375.15 L170.09 374.93 L171.38 374.71 L172.67 374.50 L173.97 374.29 L175.26 374.08 L176.55 373.88 L177.85 373.67 L179.14 373.48 L180.43 373.28 L181.73 373.09 L183.02 372.90 L184.31 372.71 L185.61 372.52 L186.90 372.34 L188.19 372.16 L189.49 371.98 L190.78 371.81 L192.07 371.64 L193.36 371.47 L194.66 371.30 L195.95 371.13 L197.24 370.97 L198.54 370.81 L199.83 370.65 L201.12 370.49 L202.42 370.34 L203.71 370.18 L205.00 370.03 L206.30 369.88 L207.59 369.73 L208.88 369.59 L210.18 369.44 L211.47 369.30 L212.76 369.16 L214.05 369.02 L215.35 368.88 L216.64 368.75 L217.93 368.61 L219.23 368.48 L220.52 368.35 L221.81 368.22 L223.11 368.09 L224.40 367.96" stroke="#444" stroke-width="0.85" fill="none" stroke-linejoin="round"/>
<path d="M70.52 433.09 L71.81 432.86 L73.10 432.71 L74.39 432.58 L75.69 432.45 L76.98 432.34 L78.27 432.23 L79.57 432.13 L80.86 432.03 L82.15 431.94 L83.45 431.85 L84.74 431.76 L86.03 431.68 L87.33 431.59 L88.62 431.51 L89.91 431.44 L91.21 431.37 L92.50 431.29 L93.79 431.22 L95.09 431.16 L96.38 431.09 L97.67 431.02 L98.96 430.95 L100.26 430.88 L101.55 430.80 L102.84 430.73 L104.14 430.65 L105.43 430.58 L106.72 430.50 L108.02 430.43 L109.31 430.35 L110.60 430.27 L111.90 430.20 L113.19 430.12 L114.48 430.04 L115.78 429.96 L117.07 429.89 L118.36 429.81 L119.66 429.74 L120.95 429.66 L122.24 429.59 L123.53 429.52 L124.83 429.45 L126.12 429.38 L127.41 429.31 L128.71 429.25 L130.00 429.18 L131.29 429.12 L132.59 429.06 L133.88 429.00 L135.17 428.95 L136.47 428.89 L137.76 428.83 L139.05 428.78 L140.35 428.72 L141.64 428.67 L142.93 428.62 L144.22 428.56 L145.52 428.51 L146.81 428.45 L148.10 428.40 L149.40 428.33 L150.69 428.27 L151.98 428.20 L153.28 428.13 L154.57 428.05 L155.86 427.98 L157.16 427.91 L158.45 427.83 L159.74 427.77 L161.04 427.70 L162.33 427.64 L163.62 427.59 L164.92 427.54 L166.21 427.49 L167.50 427.44 L168.79 427.39 L170.09 427.34 L171.38 427.29 L172.67 427.24 L173.97 427.19 L175.26 427.14 L176.55 427.09 L177.85 427.04 L179.14 426.99 L180.43 426.95 L181.73 426.90 L183.02 426.85 L184.31 426.81 L185.61 426.76 L186.90 426.72 L188.19 426.67 L189.49 426.63 L190.78 426.58 L192.07 426.54 L193.36 426.50 L194.66 426.45 L195.95 426.41 L197.24 426.37 L198.54 426.33 L199.83 426.29 L201.12 426.25 L202.42 426.22 L203.71 426.18 L205.00 426.14 L206.30 426.10 L207.59 426.07 L208.88 426.03 L210.18 426.00 L211.47 425.97 L212.76 425.93 L214.05 425.90 L215.35 425.87 L216.64 425.84 L217.93 425.81 L219.23 425.78 L220.52 425.76 L221.81 425.73 L223.11 425.70 L224.40 425.68" stroke="#1a1a1a" stroke-width="1.25" fill="none" stroke-linejoin="round"/>
<path d="M70.52 433.07 L71.81 430.48 L73.10 427.92 L74.39 425.46 L75.69 423.11 L76.98 420.87 L78.27 418.72 L79.57 416.67 L80.86 414.71 L82.15 412.82 L83.45 411.02 L84.74 409.30 L86.03 407.65 L87.33 406.07 L88.62 404.54 L89.91 403.06 L91.21 401.64 L92.50 400.27 L93.79 398.95 L95.09 397.68 L96.38 396.47 L97.67 395.30 L98.96 394.19 L100.26 393.13 L101.55 392.12 L102.84 391.17 L104.14 390.27 L105.43 389.42 L106.72 388.61 L108.02 387.84 L109.31 387.10 L110.60 386.39 L111.90 385.71 L113.19 385.05 L114.48 384.41 L115.78 383.77 L117.07 383.15 L118.36 382.55 L119.66 381.96 L120.95 381.40 L122.24 380.85 L123.53 380.32 L124.83 379.80 L126.12 379.29 L127.41 378.79 L128.71 378.30 L130.00 377.81 L131.29 377.33 L132.59 376.84 L133.88 376.34 L135.17 375.82 L136.47 375.29 L137.76 374.76 L139.05 374.22 L140.35 373.69 L141.64 373.18 L142.93 372.68 L144.22 372.21 L145.52 371.77 L146.81 371.36 L148.10 370.99 L149.40 370.64 L150.69 370.30 L151.98 369.96 L153.28 369.64 L154.57 369.32 L155.86 369.01 L157.16 368.70 L158.45 368.40 L159.74 368.11 L161.04 367.82 L162.33 367.53 L163.62 367.25 L164.92 366.97 L166.21 366.69 L167.50 366.42 L168.79 366.16 L170.09 365.90 L171.38 365.64 L172.67 365.38 L173.97 365.13 L175.26 364.89 L176.55 364.65 L177.85 364.41 L179.14 364.17 L180.43 363.94 L181.73 363.72 L183.02 363.50 L184.31 363.28 L185.61 363.07 L186.90 362.86 L188.19 362.65 L189.49 362.45 L190.78 362.25 L192.07 362.06 L193.36 361.87 L194.66 361.69 L195.95 361.51 L197.24 361.33 L198.54 361.16 L199.83 360.99 L201.12 360.82 L202.42 360.66 L203.71 360.50 L205.00 360.34 L206.30 360.19 L207.59 360.04 L208.88 359.89 L210.18 359.74 L211.47 359.60 L212.76 359.46 L214.05 359.33 L215.35 359.19 L216.64 359.06 L217.93 358.93 L219.23 358.81 L220.52 358.68 L221.81 358.56 L223.11 358.44 L224.40 358.32" stroke="#1a1a1a" stroke-width="1.05" fill="none" stroke-linejoin="round"/>
<path d="M99.33 387.06 L103.23 390.96 M99.33 390.96 L103.23 387.06" stroke="#1a1a1a" stroke-width="1.05" fill="none"/>
<path d="M130.11 378.83 L134.01 382.73 M130.11 382.73 L134.01 378.83" stroke="#1a1a1a" stroke-width="1.05" fill="none"/>
<path d="M191.67 363.95 L195.57 367.85 M191.67 367.85 L195.57 363.95" stroke="#1a1a1a" stroke-width="1.05" fill="none"/>
<path d="M222.45 352.53 L226.35 356.43 M222.45 356.43 L226.35 352.53" stroke="#1a1a1a" stroke-width="1.05" fill="none"/>
<path d="M99.38 391.92 H103.18 M101.28 389.92 V393.92" stroke="#444" stroke-width="0.95" fill="none"/>
<path d="M130.16 386.39 H133.96 M132.06 384.39 V388.39" stroke="#444" stroke-width="0.95" fill="none"/>
<path d="M191.72 375.26 H195.52 M193.62 373.26 V377.26" stroke="#444" stroke-width="0.95" fill="none"/>
<path d="M222.50 364.30 H226.30 M224.40 362.30 V366.30" stroke="#444" stroke-width="0.95" fill="none"/>
<circle cx="85.89" cy="431.23" r="1.90" fill="#505050" stroke="#1a1a1a" stroke-width="0.9"/>
<circle cx="101.28" cy="430.85" r="1.90" fill="#505050" stroke="#1a1a1a" stroke-width="0.9"/>
<circle cx="132.06" cy="428.61" r="1.90" fill="#505050" stroke="#1a1a1a" stroke-width="0.9"/>
<circle cx="147.45" cy="428.61" r="1.90" fill="#505050" stroke="#1a1a1a" stroke-width="0.9"/>
<path d="M285.80 339.00 V433.20 M277.80 433.20 H440.00 M282.00 409.80 H285.80 M282.00 386.40 H285.80 M282.00 363.00 H285.80 M282.00 339.60 H285.80 M285.80 433.20 V436.80 M316.52 433.20 V436.80 M347.24 433.20 V436.80 M377.96 433.20 V436.80 M408.68 433.20 V436.80 M439.40 433.20 V436.80" stroke="#111" stroke-width="1.3" fill="none"/>
<text x="252.3" y="437.6" textLength="7.7" lengthAdjust="spacingAndGlyphs">0</text>
<text x="252.8" y="414.5" textLength="26.4" lengthAdjust="spacingAndGlyphs">0.05</text>
<text x="252.8" y="391.3" textLength="26.4" lengthAdjust="spacingAndGlyphs">0.10</text>
<text x="252.8" y="368.1" textLength="26.4" lengthAdjust="spacingAndGlyphs">0.15</text>
<text x="252.8" y="345.0" textLength="26.4" lengthAdjust="spacingAndGlyphs">0.20</text>
<text x="281.8" y="448.9" textLength="7.8" lengthAdjust="spacingAndGlyphs">0</text>
<text x="309.2" y="448.9" textLength="15.0" lengthAdjust="spacingAndGlyphs">20</text>
<text x="340.2" y="448.9" textLength="15.0" lengthAdjust="spacingAndGlyphs">40</text>
<text x="371.2" y="448.9" textLength="15.0" lengthAdjust="spacingAndGlyphs">60</text>
<text x="402.2" y="448.9" textLength="15.0" lengthAdjust="spacingAndGlyphs">80</text>
<text x="429.7" y="448.9" textLength="21.9" lengthAdjust="spacingAndGlyphs">100</text>
<path d="M285.82 433.20 L287.11 433.20 L288.40 433.18 L289.69 433.15 L290.98 433.11 L292.27 433.06 L293.56 433.01 L294.85 432.94 L296.14 432.87 L297.43 432.79 L298.72 432.70 L300.01 432.61 L301.30 432.51 L302.59 432.40 L303.88 432.29 L305.17 432.18 L306.47 432.06 L307.76 431.93 L309.05 431.79 L310.34 431.66 L311.63 431.51 L312.92 431.37 L314.21 431.21 L315.50 431.06 L316.79 430.89 L318.08 430.73 L319.37 430.55 L320.66 430.38 L321.95 430.20 L323.24 430.02 L324.53 429.83 L325.82 429.64 L327.12 429.45 L328.41 429.25 L329.70 429.05 L330.99 428.84 L332.28 428.63 L333.57 428.42 L334.86 428.20 L336.15 427.98 L337.44 427.76 L338.73 427.53 L340.02 427.30 L341.31 427.06 L342.60 426.82 L343.89 426.58 L345.18 426.33 L346.47 426.08 L347.77 425.83 L349.06 425.55 L350.35 425.24 L351.64 424.92 L352.93 424.58 L354.22 424.22 L355.51 423.87 L356.80 423.51 L358.09 423.16 L359.38 422.82 L360.67 422.49 L361.96 422.18 L363.25 421.89 L364.54 421.60 L365.83 421.31 L367.12 421.02 L368.42 420.72 L369.71 420.42 L371.00 420.12 L372.29 419.82 L373.58 419.52 L374.87 419.21 L376.16 418.91 L377.45 418.60 L378.74 418.28 L380.03 417.97 L381.32 417.65 L382.61 417.34 L383.90 417.02 L385.19 416.70 L386.48 416.38 L387.77 416.05 L389.07 415.73 L390.36 415.40 L391.65 415.07 L392.94 414.74 L394.23 414.41 L395.52 414.07 L396.81 413.74 L398.10 413.40 L399.39 413.06 L400.68 412.72 L401.97 412.38 L403.26 412.04 L404.55 411.69 L405.84 411.34 L407.13 410.99 L408.42 410.64 L409.72 410.29 L411.01 409.94 L412.30 409.58 L413.59 409.22 L414.88 408.86 L416.17 408.50 L417.46 408.14 L418.75 407.78 L420.04 407.42 L421.33 407.05 L422.62 406.69 L423.91 406.32 L425.20 405.95 L426.49 405.58 L427.78 405.21 L429.07 404.83 L430.37 404.46 L431.66 404.08 L432.95 403.71 L434.24 403.33 L435.53 402.95 L436.82 402.57 L438.11 402.19 L439.40 401.81" stroke="#444" stroke-width="0.85" fill="none" stroke-linejoin="round"/>
<path d="M285.82 433.20 L287.11 432.96 L288.40 432.71 L289.69 432.45 L290.98 432.18 L292.27 431.92 L293.56 431.65 L294.85 431.38 L296.14 431.11 L297.43 430.84 L298.72 430.57 L300.01 430.30 L301.30 430.03 L302.59 429.76 L303.88 429.50 L305.17 429.25 L306.47 429.00 L307.76 428.76 L309.05 428.51 L310.34 428.26 L311.63 428.00 L312.92 427.74 L314.21 427.47 L315.50 427.18 L316.79 426.88 L318.08 426.57 L319.37 426.26 L320.66 425.95 L321.95 425.63 L323.24 425.31 L324.53 424.98 L325.82 424.65 L327.12 424.32 L328.41 423.99 L329.70 423.66 L330.99 423.32 L332.28 422.98 L333.57 422.64 L334.86 422.30 L336.15 421.96 L337.44 421.62 L338.73 421.27 L340.02 420.93 L341.31 420.58 L342.60 420.24 L343.89 419.89 L345.18 419.55 L346.47 419.21 L347.77 418.86 L349.06 418.51 L350.35 418.15 L351.64 417.78 L352.93 417.41 L354.22 417.04 L355.51 416.68 L356.80 416.31 L358.09 415.95 L359.38 415.60 L360.67 415.27 L361.96 414.94 L363.25 414.63 L364.54 414.33 L365.83 414.03 L367.12 413.73 L368.42 413.43 L369.71 413.13 L371.00 412.84 L372.29 412.54 L373.58 412.25 L374.87 411.95 L376.16 411.66 L377.45 411.37 L378.74 411.07 L380.03 410.78 L381.32 410.48 L382.61 410.19 L383.90 409.90 L385.19 409.60 L386.48 409.31 L387.77 409.02 L389.07 408.73 L390.36 408.44 L391.65 408.15 L392.94 407.85 L394.23 407.56 L395.52 407.27 L396.81 406.99 L398.10 406.70 L399.39 406.41 L400.68 406.12 L401.97 405.83 L403.26 405.54 L404.55 405.25 L405.84 404.97 L407.13 404.68 L408.42 404.39 L409.72 404.11 L411.01 403.82 L412.30 403.53 L413.59 403.25 L414.88 402.96 L416.17 402.68 L417.46 402.39 L418.75 402.11 L420.04 401.82 L421.33 401.54 L422.62 401.25 L423.91 400.97 L425.20 400.69 L426.49 400.40 L427.78 400.12 L429.07 399.84 L430.37 399.56 L431.66 399.28 L432.95 399.00 L434.24 398.72 L435.53 398.44 L436.82 398.16 L438.11 397.88 L439.40 397.60" stroke="#1a1a1a" stroke-width="1.25" fill="none" stroke-linejoin="round"/>
<path d="M285.82 433.20 L287.11 433.10 L288.40 432.97 L289.69 432.81 L290.98 432.64 L292.27 432.45 L293.56 432.25 L294.85 432.04 L296.14 431.81 L297.43 431.57 L298.72 431.31 L300.01 431.05 L301.30 430.77 L302.59 430.49 L303.88 430.19 L305.17 429.88 L306.47 429.57 L307.76 429.24 L309.05 428.91 L310.34 428.56 L311.63 428.21 L312.92 427.84 L314.21 427.47 L315.50 427.09 L316.79 426.70 L318.08 426.31 L319.37 425.92 L320.66 425.54 L321.95 425.15 L323.24 424.77 L324.53 424.38 L325.82 423.99 L327.12 423.60 L328.41 423.20 L329.70 422.80 L330.99 422.39 L332.28 421.97 L333.57 421.55 L334.86 421.11 L336.15 420.67 L337.44 420.21 L338.73 419.74 L340.02 419.26 L341.31 418.76 L342.60 418.24 L343.89 417.71 L345.18 417.17 L346.47 416.60 L347.77 416.01 L349.06 415.39 L350.35 414.74 L351.64 414.07 L352.93 413.37 L354.22 412.67 L355.51 411.95 L356.80 411.23 L358.09 410.52 L359.38 409.81 L360.67 409.11 L361.96 408.43 L363.25 407.76 L364.54 407.11 L365.83 406.45 L367.12 405.80 L368.42 405.14 L369.71 404.49 L371.00 403.83 L372.29 403.16 L373.58 402.49 L374.87 401.81 L376.16 401.11 L377.45 400.41 L378.74 399.69 L380.03 398.96 L381.32 398.22 L382.61 397.48 L383.90 396.73 L385.19 395.97 L386.48 395.21 L387.77 394.44 L389.07 393.66 L390.36 392.88 L391.65 392.10 L392.94 391.31 L394.23 390.52 L395.52 389.73 L396.81 388.93 L398.10 388.13 L399.39 387.33 L400.68 386.53 L401.97 385.72 L403.26 384.92 L404.55 384.12 L405.84 383.32 L407.13 382.52 L408.42 381.72 L409.72 380.92 L411.01 380.12 L412.30 379.32 L413.59 378.51 L414.88 377.71 L416.17 376.91 L417.46 376.10 L418.75 375.30 L420.04 374.49 L421.33 373.68 L422.62 372.88 L423.91 372.07 L425.20 371.26 L426.49 370.45 L427.78 369.65 L429.07 368.84 L430.37 368.03 L431.66 367.22 L432.95 366.41 L434.24 365.60 L435.53 364.79 L436.82 363.98 L438.11 363.18 L439.40 362.37" stroke="#1a1a1a" stroke-width="1.05" fill="none" stroke-linejoin="round"/>
<path d="M314.57 420.77 L318.47 424.67 M314.57 424.67 L318.47 420.77" stroke="#1a1a1a" stroke-width="1.05" fill="none"/>
<path d="M345.29 422.87 L349.19 426.77 M345.29 426.77 L349.19 422.87" stroke="#1a1a1a" stroke-width="1.05" fill="none"/>
<path d="M406.73 347.99 L410.63 351.89 M406.73 351.89 L410.63 347.99" stroke="#1a1a1a" stroke-width="1.05" fill="none"/>
<path d="M437.45 366.06 L441.35 369.96 M437.45 369.96 L441.35 366.06" stroke="#1a1a1a" stroke-width="1.05" fill="none"/>
<path d="M314.62 429.46 H318.42 M316.52 427.46 V431.46" stroke="#444" stroke-width="0.95" fill="none"/>
<path d="M345.34 432.26 H349.14 M347.24 430.26 V434.26" stroke="#444" stroke-width="0.95" fill="none"/>
<path d="M406.78 389.77 H410.58 M408.68 387.77 V391.77" stroke="#444" stroke-width="0.95" fill="none"/>
<path d="M437.50 374.23 H441.30 M439.40 372.23 V376.23" stroke="#444" stroke-width="0.95" fill="none"/>
<circle cx="301.16" cy="428.89" r="1.90" fill="#505050" stroke="#1a1a1a" stroke-width="0.9"/>
<circle cx="316.52" cy="428.33" r="1.90" fill="#505050" stroke="#1a1a1a" stroke-width="0.9"/>
<circle cx="347.24" cy="418.32" r="1.90" fill="#505050" stroke="#1a1a1a" stroke-width="0.9"/>
<circle cx="362.60" cy="412.19" r="1.90" fill="#505050" stroke="#1a1a1a" stroke-width="0.9"/>
<text x="88.9" y="43.9" textLength="44.4" lengthAdjust="spacingAndGlyphs">HepG2</text>
<text x="298.6" y="43.6" textLength="79.3" lengthAdjust="spacingAndGlyphs">SMMC-7721</text>
<text x="85.3" y="194.4" textLength="33.1" lengthAdjust="spacingAndGlyphs">Hep2</text>
<text x="299.9" y="194.4" textLength="63.2" lengthAdjust="spacingAndGlyphs">MiaPaCa2</text>
<text x="87.8" y="344.9" textLength="50.4" lengthAdjust="spacingAndGlyphs">GLC-82</text>
<text x="300.8" y="344.9" textLength="15.7" lengthAdjust="spacingAndGlyphs">BJ</text>
<text x="385.1" y="93.3" textLength="49.3" lengthAdjust="spacingAndGlyphs">Mixture</text>
<text x="385.1" y="107.3" textLength="50.7" lengthAdjust="spacingAndGlyphs">Ad-ETK</text>
<text x="385.7" y="121.2" textLength="31.3" lengthAdjust="spacingAndGlyphs">GCV</text>
<path d="M372.00 87.40 L375.60 91.00 M372.00 91.00 L375.60 87.40" stroke="#1a1a1a" stroke-width="1.05" fill="none"/>
<path d="M371.80 102.70 H375.40 M373.60 100.80 V104.60" stroke="#444" stroke-width="0.95" fill="none"/>
<circle cx="373.4" cy="116.5" r="2.2" fill="#444" stroke="#222" stroke-width="0.8"/>
</g></svg>
</body></html>
